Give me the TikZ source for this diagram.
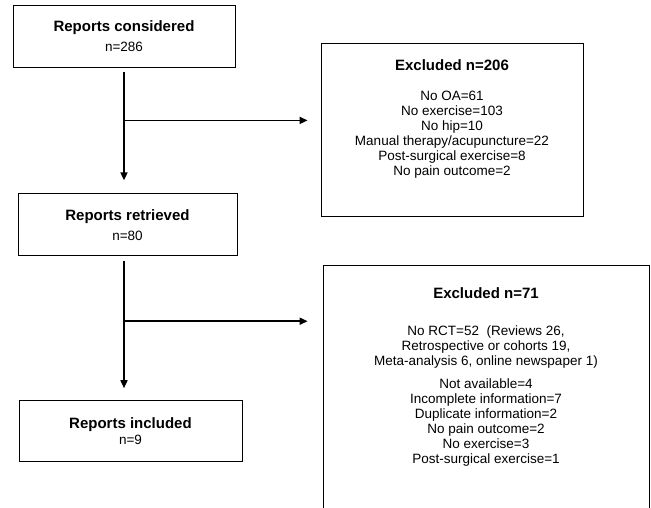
\documentclass[tikz,border=0pt]{standalone}
\usepackage{fontspec}
\setmainfont{Liberation Sans}
\usetikzlibrary{positioning}
\usetikzlibrary{arrows.meta}
\usetikzlibrary{calc}
\tikzstyle{block} = [draw, rectangle, line width = 0.8pt, align = center, inner sep = 0pt]
\tikzstyle{boxtext} = [align = center, inner sep = 0pt, font = \fontsize{13.5}{15}\selectfont]
\tikzstyle{arrow} = [line width = 1.6pt, -{Triangle[length = 8pt, width = 7pt]}]
\newcommand{\boxtitle}[1]{{\fontsize{15}{15}\selectfont\bfseries #1}}

\begin{document}
\begin{tikzpicture}[x = 1pt, y = 1pt]
	\useasboundingbox (0,0) rectangle (651,-507);
	\clip (0,0) rectangle (651,-507);

	% Left column of reports
	\node[block, boxtext, minimum width = 222pt, minimum height = 62pt] (considered) at (124,-36)
	{\boxtitle{Reports considered}\\[5pt] n=286};
	\node[block, boxtext, minimum width = 219pt, minimum height = 62pt, below = 126pt of considered, xshift = 3.5pt] (retrieved)
	{\boxtitle{Reports retrieved}\\[5pt] n=80};
	\node[block, boxtext, minimum width = 223pt, minimum height = 61pt, below = 144pt of retrieved, xshift = 3pt] (included)
	{\boxtitle{Reports included}\\[1pt] n=9};

	% Exclusion boxes
	\node[block, minimum width = 262pt, minimum height = 173pt] (excl1) at (452,-129.5) {};
	\node[boxtext, below = 16.5pt of excl1.north] (excl1txt)
	{\boxtitle{Excluded n=206}\\[15pt]
	 No OA=61\\ No exercise=103\\ No hip=10\\ Manual therapy/acupuncture=22\\
	 Post-surgical exercise=8\\ No pain outcome=2};

	\node[block, minimum width = 326pt, minimum height = 260pt] (excl2) at (486,-395) {};
	\node[boxtext, below = 22.5pt of excl2.north] (excl2txt)
	{\boxtitle{Excluded n=71}\\[22pt]
	 No RCT=52~ (Reviews 26,\\ Retrospective or cohorts 19,\\ Meta-analysis 6, online newspaper 1)\\[8pt]
	 Not available=4\\ Incomplete information=7\\ Duplicate information=2\\ No pain outcome=2\\
	 No exercise=3\\ Post-surgical exercise=1};

	% Connectors
	\coordinate[below = 5pt of considered] (bcons);
	\coordinate[above = 13pt of retrieved] (aretr);
	\coordinate[below = 48pt of bcons] (fork1);
	\coordinate[left = 13pt of excl1] (lexcl1);
	\draw[arrow] (bcons) -- (bcons |- aretr);
	\draw[arrow] (fork1) -- (fork1 -| lexcl1);

	\coordinate[yshift = -5pt] (bretr) at (bcons |- retrieved.south);
	\coordinate[above = 12pt of included] (aincl);
	\coordinate[below = 60pt of bretr] (fork2);
	\coordinate[left = 15pt of excl2] (lexcl2);
	\draw[arrow] (bretr) -- (bretr |- aincl);
	\draw[arrow] (fork2) -- (fork2 -| lexcl2);

\end{tikzpicture}
\end{document}
